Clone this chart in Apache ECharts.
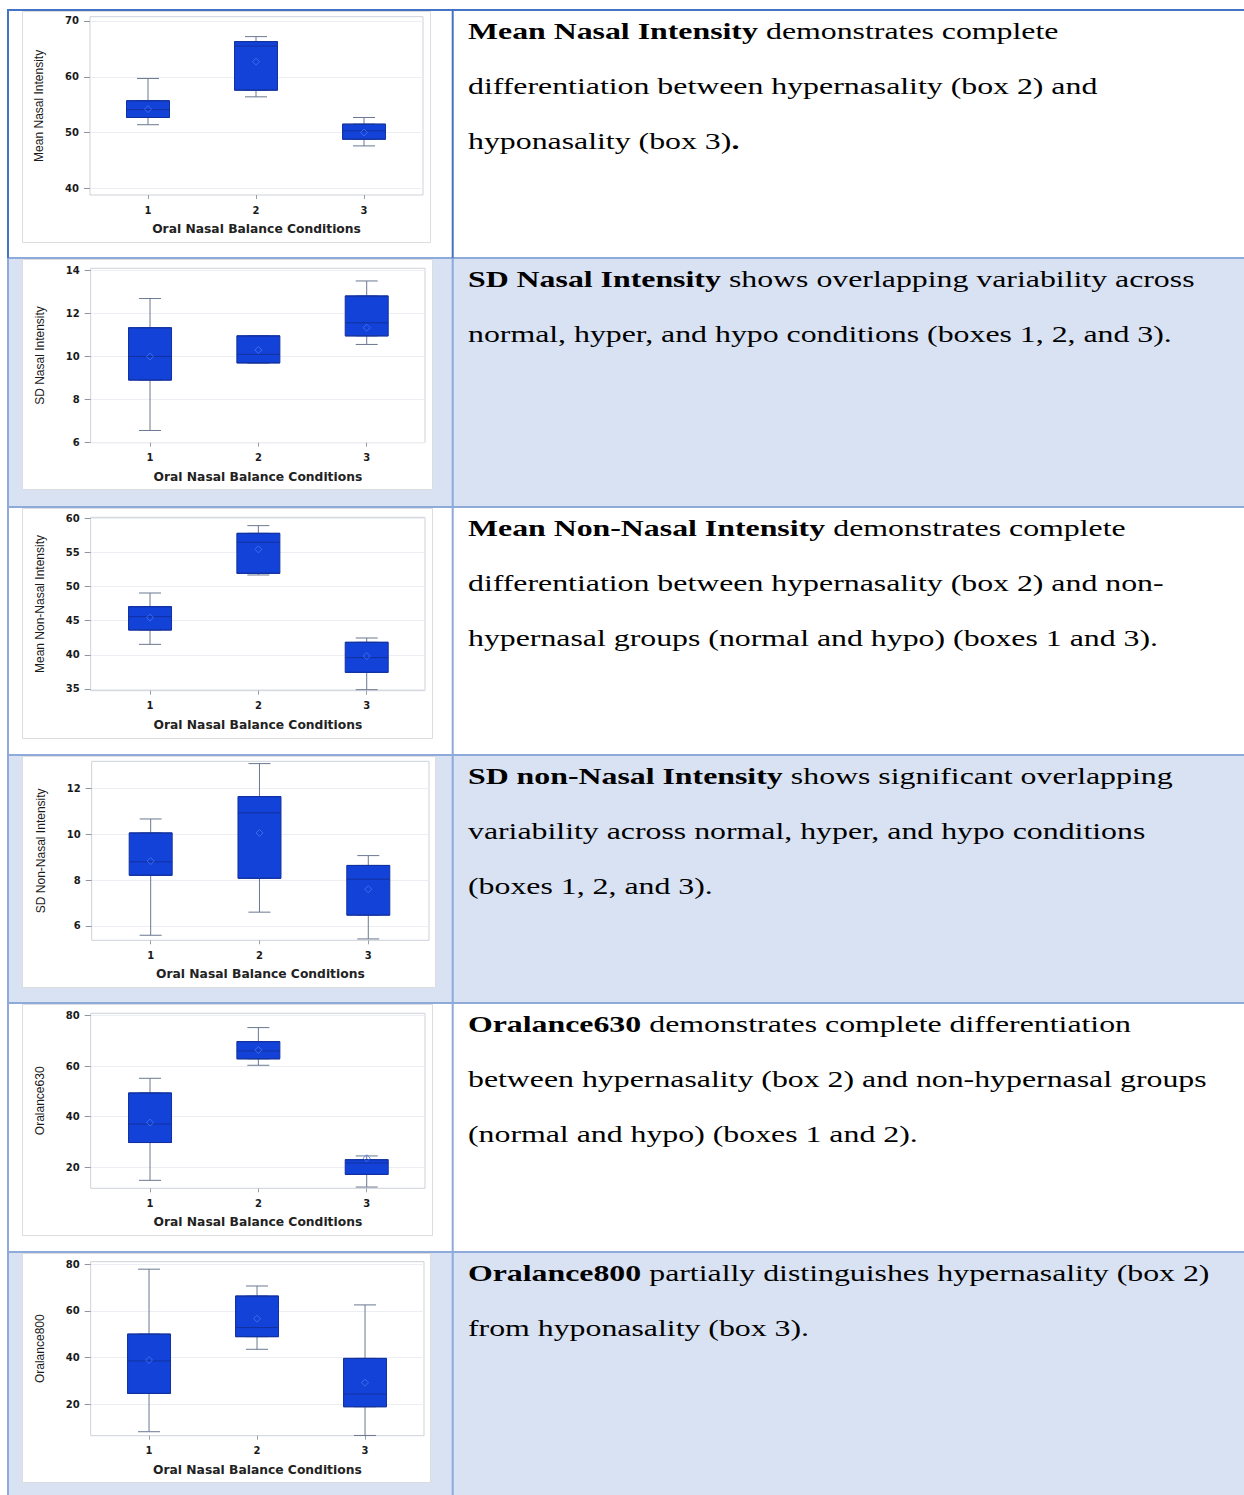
<!DOCTYPE html>
<html>
<head>
<meta charset="utf-8">
<title>Oral Nasal Balance Conditions – box plots</title>
<script src="https://cdn.jsdelivr.net/npm/echarts@6.0.0/dist/echarts.min.js"></script>
<style>
  html, body { margin: 0; padding: 0; background: #ffffff; }
  #page { width: 1244px; height: 1495px; }
</style>
</head>
<body>
<div id="page"></div>
<script>
// Condition codes on the x axis (1 = normal, 2 = hyper, 3 = hypo)
const conditionTicks = [1, 2, 3];
const conditionAxisName = 'Oral Nasal Balance Conditions';

// Box statistics per condition: [lower whisker, Q1, median, Q3, upper whisker]
const meanNasalBoxes = [
  [51.4, 52.7, 54.1, 55.7, 59.7],
  [56.4, 57.6, 65.5, 66.3, 67.2],
  [47.6, 48.8, 50.3, 51.5, 52.7]
];
const meanNasalMeans = [54.2, 62.7, 50.0];
const meanNasalTicks = [40, 50, 60, 70];

const sdNasalBoxes = [
  [6.55, 8.9, 10.0, 11.34, 12.7],
  [9.7, 9.7, 10.1, 10.96, 10.96],
  [10.56, 10.96, 11.57, 12.82, 13.52]
];
const sdNasalMeans = [10.0, 10.3, 11.34];
const sdNasalTicks = [6, 8, 10, 12, 14];

const meanNonNasalBoxes = [
  [41.54, 43.64, 45.6, 47.06, 49.06],
  [51.7, 51.94, 56.5, 57.8, 58.93],
  [34.9, 37.44, 39.6, 41.84, 42.47]
];
const meanNonNasalMeans = [45.45, 55.46, 39.83];
const meanNonNasalTicks = [35, 40, 45, 50, 55, 60];

const sdNonNasalBoxes = [
  [5.59, 8.21, 8.8, 10.06, 10.67],
  [6.6, 8.08, 10.94, 11.65, 13.09],
  [5.43, 6.47, 8.04, 8.64, 9.07]
];
const sdNonNasalMeans = [8.83, 10.06, 7.6];
const sdNonNasalTicks = [6, 8, 10, 12];

const oralance630Boxes = [
  [14.85, 29.8, 37.1, 49.4, 55.2],
  [60.35, 62.9, 66.0, 69.7, 75.25],
  [12.2, 17.2, 21.7, 23.0, 24.5]
];
const oralance630Means = [37.7, 66.4, 23.6];
const oralance630Ticks = [20, 40, 60, 80];

const oralance800Boxes = [
  [8.3, 24.7, 38.6, 50.1, 77.9],
  [43.6, 49.0, 52.9, 66.4, 70.7],
  [6.7, 19.0, 24.4, 39.7, 62.6]
];
const oralance800Means = [39.0, 56.7, 29.3];
const oralance800Ticks = [20, 40, 60, 80];

// Description lines for the right-hand column ({b|...} = bold run)
const meanNasalNote = [
  '{b|Mean Nasal Intensity} demonstrates complete',
  'differentiation between hypernasality (box 2) and',
  'hyponasality (box 3){b|.}'
];
const sdNasalNote = [
  '{b|SD Nasal Intensity} shows overlapping variability across',
  'normal, hyper, and hypo conditions (boxes 1, 2, and 3).'
];
const meanNonNasalNote = [
  '{b|Mean Non-Nasal Intensity} demonstrates complete',
  'differentiation between hypernasality (box 2) and non-',
  'hypernasal groups (normal and hypo) (boxes 1 and 3).'
];
const sdNonNasalNote = [
  '{b|SD non-Nasal Intensity} shows significant overlapping',
  'variability across normal, hyper, and hypo conditions',
  '(boxes 1, 2, and 3).'
];
const oralance630Note = [
  '{b|Oralance630} demonstrates complete differentiation',
  'between hypernasality (box 2) and non-hypernasal groups',
  '(normal and hypo) (boxes 1 and 2).'
];
const oralance800Note = [
  '{b|Oralance800} partially distinguishes hypernasality (box 2)',
  'from hyponasality (box 3).'
];

// ---- layout of the table and the six plot panels ----
const rowTops = [10, 258, 507, 755, 1003, 1252];
const pageBottom = 1495;
const pageRight = 1244;
const dividerX = 452.7;

const panels = [
  { name: 'Mean Nasal Intensity', boxes: meanNasalBoxes, means: meanNasalMeans, ticks: meanNasalTicks, note: meanNasalNote,
    frame: [22, 11, 408, 231], grid: [90, 16.7, 333, 178.3], xr: [0.463, 3.546], yr: [38.8, 70.77] },
  { name: 'SD Nasal Intensity', boxes: sdNasalBoxes, means: sdNasalMeans, ticks: sdNasalTicks, note: sdNasalNote,
    frame: [22, 259, 410, 230], grid: [90.7, 268.3, 334.3, 174.4], xr: [0.4525, 3.538], yr: [5.98, 14.11] },
  { name: 'Mean Non-Nasal Intensity', boxes: meanNonNasalBoxes, means: meanNonNasalMeans, ticks: meanNonNasalTicks, note: meanNonNasalNote,
    frame: [22, 508, 410, 230], grid: [90.7, 517.3, 334.3, 173.4], xr: [0.4525, 3.538], yr: [34.75, 60.15] },
  { name: 'SD Non-Nasal Intensity', boxes: sdNonNasalBoxes, means: sdNonNasalMeans, ticks: sdNonNasalTicks, note: sdNonNasalNote,
    frame: [22, 756, 413, 231], grid: [91.7, 761.3, 337.3, 179], xr: [0.458, 3.558], yr: [5.37, 13.19] },
  { name: 'Oralance630', boxes: oralance630Boxes, means: oralance630Means, ticks: oralance630Ticks, note: oralance630Note,
    frame: [22, 1004, 410, 231], grid: [90.7, 1013.3, 334.3, 175], xr: [0.4525, 3.538], yr: [11.7, 80.9] },
  { name: 'Oralance800', boxes: oralance800Boxes, means: oralance800Means, ticks: oralance800Ticks, note: oralance800Note,
    frame: [22, 1253, 408, 229], grid: [90.7, 1261.7, 333.3, 174], xr: [0.46, 3.546], yr: [6.6, 81.1] }
];

const BOX_FILL = '#1342d8';
const BOX_EDGE = '#12319f';
const WHISKER = '#6b7891';
const MEAN_EDGE = '#4a74ee';
const TABLE_DARK = '#4472c4';
const TABLE_LIGHT = '#8eaadb';
const BAND_FILL = '#d9e2f3';

const tickFont = { fontFamily: 'DejaVu Sans', fontWeight: 'bold', fontSize: 10, color: '#1a1a1a' };

const grids = [], xAxes = [], yAxes = [], series = [], graphics = [];

// table background bands (rows 2, 4, 6)
rowTops.forEach(function (top, r) {
  const bottom = r + 1 < rowTops.length ? rowTops[r + 1] : pageBottom;
  if (r % 2 === 1) {
    graphics.push({ type: 'rect', z: -20, silent: true,
      shape: { x: 8, y: top, width: pageRight - 8, height: bottom - top },
      style: { fill: BAND_FILL } });
  }
});

panels.forEach(function (p, i) {
  // white plot picture with a thin grey edge
  graphics.push({ type: 'rect', z: -15, silent: true,
    shape: { x: p.frame[0] + 0.5, y: p.frame[1] + 0.5, width: p.frame[2], height: p.frame[3] },
    style: { fill: '#ffffff', stroke: '#dcdde1', lineWidth: 1 } });

  grids.push({ left: p.grid[0], top: p.grid[1], width: p.grid[2], height: p.grid[3],
    show: true, backgroundColor: '#ffffff', borderColor: '#cdd1d8', borderWidth: 1 });

  xAxes.push({
    type: 'value', gridIndex: i, min: p.xr[0], max: p.xr[1],
    axisLine: { show: false },
    axisTick: { show: true, customValues: conditionTicks, length: 4, lineStyle: { color: '#9aa0aa' } },
    axisLabel: Object.assign({ customValues: conditionTicks, margin: 10 }, tickFont),
    splitLine: { show: false },
    name: conditionAxisName, nameLocation: 'middle', nameGap: 28,
    nameTextStyle: { fontFamily: 'DejaVu Sans', fontWeight: 'bold', fontSize: 12.3, color: '#222' }
  });
  // companion axis so the filled boxes are not grouped beside the whisker series
  xAxes.push({ type: 'value', gridIndex: i, min: p.xr[0], max: p.xr[1], show: false });

  yAxes.push({
    type: 'value', gridIndex: i, min: p.yr[0], max: p.yr[1],
    axisLine: { show: false },
    axisTick: { show: true, customValues: p.ticks, length: 6, lineStyle: { color: '#8f95a0' } },
    axisLabel: Object.assign({ customValues: p.ticks, margin: 11 }, tickFont),
    splitLine: { show: true, lineStyle: { color: '#eceef3', width: 1 } },
    name: p.name, nameLocation: 'middle', nameRotate: 90, nameGap: 45,
    nameTextStyle: { fontFamily: 'Liberation Sans', fontSize: 12, color: '#1a1a1a' }
  });

  // whiskers (narrow caps), drawn underneath the boxes
  series.push({
    type: 'boxplot', xAxisIndex: 2 * i, yAxisIndex: i, z: 2, silent: true,
    boxWidth: [22, 22],
    itemStyle: { color: 'transparent', borderColor: WHISKER, borderWidth: 1 },
    data: p.boxes.map(function (b, k) { return [conditionTicks[k]].concat(b); })
  });
  // interquartile boxes with median line
  series.push({
    type: 'boxplot', xAxisIndex: 2 * i + 1, yAxisIndex: i, z: 3, silent: true,
    boxWidth: [43, 43],
    itemStyle: { color: BOX_FILL, borderColor: BOX_EDGE, borderWidth: 1 },
    data: p.boxes.map(function (b, k) { return [conditionTicks[k], b[1], b[1], b[2], b[3], b[3]]; })
  });
  // group means
  series.push({
    type: 'scatter', xAxisIndex: 2 * i, yAxisIndex: i, z: 4, silent: true,
    symbol: 'diamond', symbolSize: 7,
    itemStyle: { color: 'transparent', borderColor: MEAN_EDGE, borderWidth: 1 },
    data: p.means.map(function (m, k) { return [conditionTicks[k], m]; })
  });

  // description text in the right-hand cell
  const top = rowTops[i];
  p.note.forEach(function (line, li) {
    graphics.push({ type: 'text', z: 10, silent: true,
      x: 468, y: top + 21 + 55 * li, scaleX: 1.415,
      style: {
        text: line, fill: '#000000',
        fontFamily: 'Liberation Serif', fontSize: 22.5,
        align: 'left', verticalAlign: 'middle',
        rich: { b: { fontFamily: 'Liberation Serif', fontSize: 22.5, fontWeight: 'bold', fill: '#000000' } }
      } });
  });
});

// table rules
function rule(x1, y1, x2, y2, color) {
  graphics.push({ type: 'line', z: 5, silent: true,
    shape: { x1: x1, y1: y1, x2: x2, y2: y2 },
    style: { stroke: color, lineWidth: 2 } });
}
for (let r = 1; r < rowTops.length; r++) rule(7, rowTops[r], pageRight, rowTops[r], TABLE_LIGHT);
rule(8, rowTops[1], 8, pageBottom, TABLE_LIGHT);
rule(dividerX, rowTops[1], dividerX, pageBottom, TABLE_LIGHT);
rule(8, rowTops[0], 8, rowTops[1], TABLE_DARK);
rule(dividerX, rowTops[0], dividerX, rowTops[1], TABLE_DARK);
rule(7, rowTops[0], pageRight, rowTops[0], TABLE_DARK);

const chart = echarts.init(document.getElementById('page'), null, { renderer: 'svg' });
chart.setOption({
  animation: false,
  backgroundColor: '#ffffff',
  grid: grids,
  xAxis: xAxes,
  yAxis: yAxes,
  series: series,
  graphic: { elements: graphics }
});
</script>
</body>
</html>
